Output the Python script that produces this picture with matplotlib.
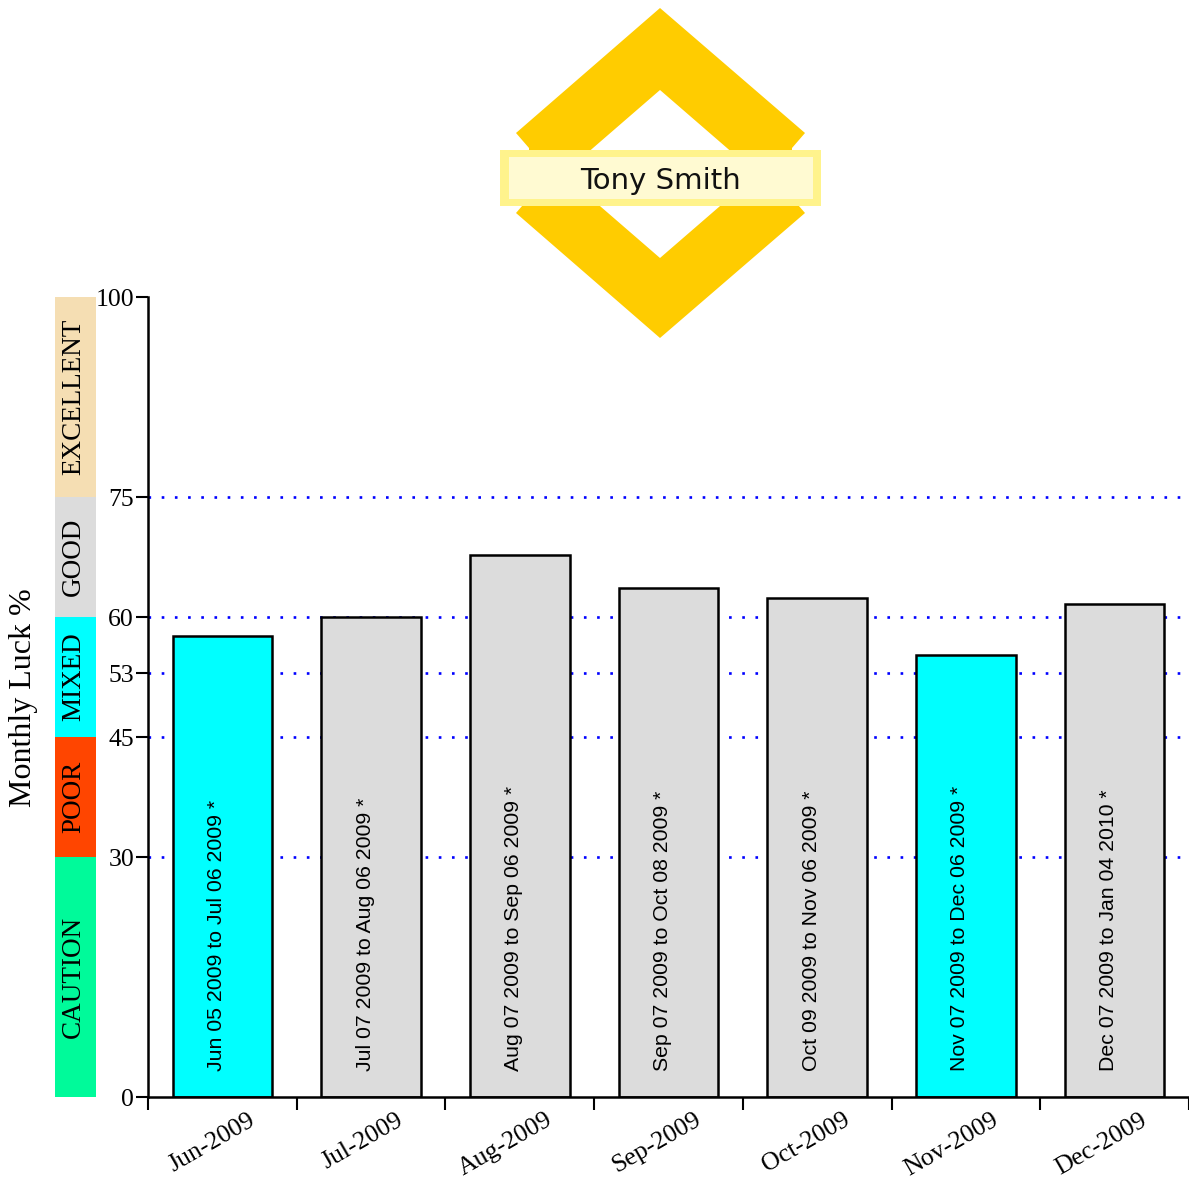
import matplotlib
matplotlib.use("Agg")
import matplotlib.pyplot as plt
import matplotlib.transforms as mtrans
from matplotlib.patches import Polygon, Rectangle

# ---- data ----
months = ["Jun-2009", "Jul-2009", "Aug-2009", "Sep-2009", "Oct-2009", "Nov-2009", "Dec-2009"]
luck = [57.6, 60.0, 67.7, 63.6, 62.4, 55.2, 61.6]
periods = ["Jun 05 2009 to Jul 06 2009 *", "Jul 07 2009 to Aug 06 2009 *",
           "Aug 07 2009 to Sep 06 2009 *", "Sep 07 2009 to Oct 08 2009 *",
           "Oct 09 2009 to Nov 06 2009 *", "Nov 07 2009 to Dec 06 2009 *",
           "Dec 07 2009 to Jan 04 2010 *"]
bar_colors = ["#00FFFF", "#DCDCDC", "#DCDCDC", "#DCDCDC", "#DCDCDC", "#00FFFF", "#DCDCDC"]
yticks = [0, 30, 45, 53, 60, 75, 100]
gridlines = [30, 45, 53, 60, 75]
band_names = ["CAUTION", "POOR", "MIXED", "GOOD", "EXCELLENT"]
band_lo = [0, 30, 45, 60, 75]
band_hi = [30, 45, 60, 75, 100]
band_colors = ["#00FA9A", "#FF4500", "#00FFFF", "#DCDCDC", "#F5DEB3"]
name = "Tony Smith"

W, H = 1189, 1182
fig = plt.figure(figsize=(W / 100, H / 100), dpi=100)
serif = ["Liberation Serif", "DejaVu Serif"]
sans = ["Liberation Sans", "DejaVu Sans"]

bottom = 1 - 1097 / H
height = 800 / H
ax = fig.add_axes([148 / W, bottom, 1 - 148 / W, height])
ax.set_xlim(0, len(months))
ax.set_ylim(0, 100)
for s in ["top", "right"]:
    ax.spines[s].set_visible(False)
for s in ["left", "bottom"]:
    ax.spines[s].set_linewidth(1.8)

for g in gridlines:
    ax.axhline(g, color="blue", linestyle=(0, (1, 4.0)), lw=1.9, zorder=1)

centers = [i + 0.5 for i in range(len(months))]
ax.bar(centers, luck, width=0.67, color=bar_colors, edgecolor="black", linewidth=1.8, zorder=2)
for c, p in zip(centers, periods):
    ax.text(c - 0.04, 3.3, p, rotation=90, ha="center", va="bottom",
            family=sans, fontsize=15.3, zorder=3)

ax.set_yticks(yticks)
ax.set_yticklabels([str(t) for t in yticks], family=serif, fontsize=18.5)
ax.tick_params(axis="y", length=9, width=1.5, pad=1)
ax.set_xticks(range(len(months) + 1))
ax.set_xticklabels([])
ax.tick_params(axis="x", which="major", length=9, width=1.5)

blend = mtrans.blended_transform_factory(ax.transData, ax.transAxes)
lab_tr = mtrans.offset_copy(blend, fig=fig, x=0, y=-12, units="dots")
for c, m in zip(centers, months):
    ax.text(c + 0.17, 0, m, transform=lab_tr, rotation=30, ha="right", va="top",
            rotation_mode="anchor", family=serif, fontsize=18.5, clip_on=False)

# left band
bax = fig.add_axes([55 / W, bottom, 41 / W, height])
bax.set_xlim(0, 1)
bax.set_ylim(0, 100)
bax.axis("off")
for nm, lo, hi, col in zip(band_names, band_lo, band_hi, band_colors):
    bax.add_patch(Rectangle((0, lo), 1, hi - lo, color=col, lw=0))
    bax.text(0.45, (lo + hi) / 2, nm, rotation=90, ha="center", va="center",
             family=serif, fontsize=19.5)

fig.text(23 / W, 1 - 698 / H, "Monthly Luck %", rotation=90, ha="center", va="center",
         family=serif, fontsize=23)

# logo overlay in pixel coordinates
ov = fig.add_axes([0, 0, 1, 1], zorder=5)
ov.set_xlim(0, W)
ov.set_ylim(H, 0)
ov.axis("off")
ov.patch.set_alpha(0)
outer = [(660, 8), (805, 133), (792, 148), (792, 198), (805, 213), (660, 338),
         (516, 213), (529, 198), (529, 148), (516, 133)]
ov.add_patch(Polygon(outer, closed=True, color="#FFCC00", lw=0))
inner = [(660, 90), (757, 174), (660, 258), (563, 174)]
ov.add_patch(Polygon(inner, closed=True, color="white", lw=0))
ov.add_patch(Rectangle((500, 150), 321, 56, color="#FFF38C", lw=0))
ov.add_patch(Rectangle((509, 157), 304, 42, color="#FFFAD2", lw=0))
ov.text(660, 181, name, ha="center", va="center", family=["DejaVu Sans"], fontsize=21, color="#111111")

fig.savefig("out.png", dpi=100)
